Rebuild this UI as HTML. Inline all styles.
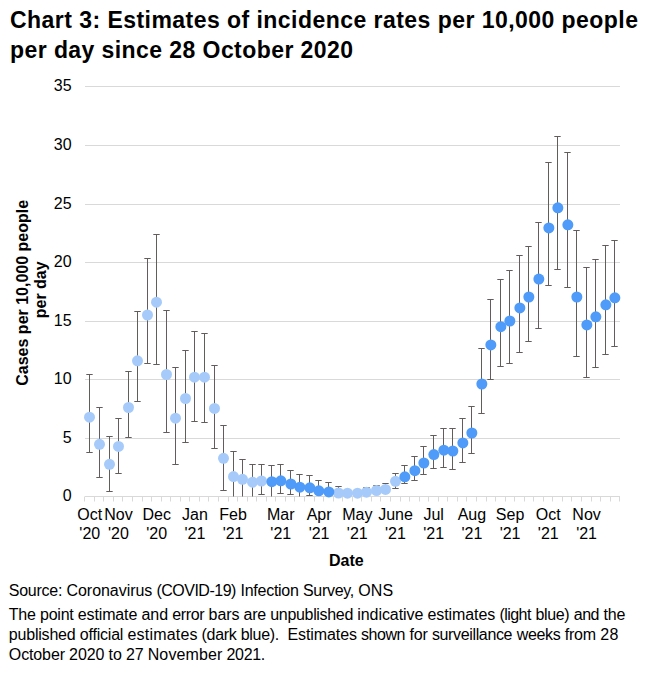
<!DOCTYPE html>
<html><head><meta charset="utf-8"><title>Chart 3</title>
<style>
html,body{margin:0;padding:0;background:#fff;}
body{width:651px;height:677px;position:relative;overflow:hidden;font-family:"Liberation Sans",sans-serif;}
svg text{font-family:"Liberation Sans",sans-serif;fill:#000;}
</style></head><body>
<svg width="651" height="677" viewBox="0 0 651 677" style="position:absolute;left:0;top:0">
<line x1="85.0" x2="620.0" y1="86.5" y2="86.5" stroke="#d9d9d9" stroke-width="1"/>
<line x1="85.0" x2="620.0" y1="145.5" y2="145.5" stroke="#d9d9d9" stroke-width="1"/>
<line x1="85.0" x2="620.0" y1="204.5" y2="204.5" stroke="#d9d9d9" stroke-width="1"/>
<line x1="85.0" x2="620.0" y1="262.5" y2="262.5" stroke="#d9d9d9" stroke-width="1"/>
<line x1="85.0" x2="620.0" y1="321.5" y2="321.5" stroke="#d9d9d9" stroke-width="1"/>
<line x1="85.0" x2="620.0" y1="379.5" y2="379.5" stroke="#d9d9d9" stroke-width="1"/>
<line x1="85.0" x2="620.0" y1="438.5" y2="438.5" stroke="#d9d9d9" stroke-width="1"/>
<line x1="85.0" x2="620.0" y1="496.5" y2="496.5" stroke="#d9d9d9" stroke-width="1"/>
<line x1="84.50" x2="84.50" y1="496.5" y2="501.5" stroke="#d9d9d9" stroke-width="1"/>
<line x1="94.50" x2="94.50" y1="496.5" y2="501.5" stroke="#d9d9d9" stroke-width="1"/>
<line x1="103.50" x2="103.50" y1="496.5" y2="501.5" stroke="#d9d9d9" stroke-width="1"/>
<line x1="113.50" x2="113.50" y1="496.5" y2="501.5" stroke="#d9d9d9" stroke-width="1"/>
<line x1="122.50" x2="122.50" y1="496.5" y2="501.5" stroke="#d9d9d9" stroke-width="1"/>
<line x1="132.50" x2="132.50" y1="496.5" y2="501.5" stroke="#d9d9d9" stroke-width="1"/>
<line x1="142.50" x2="142.50" y1="496.5" y2="501.5" stroke="#d9d9d9" stroke-width="1"/>
<line x1="151.50" x2="151.50" y1="496.5" y2="501.5" stroke="#d9d9d9" stroke-width="1"/>
<line x1="161.50" x2="161.50" y1="496.5" y2="501.5" stroke="#d9d9d9" stroke-width="1"/>
<line x1="170.50" x2="170.50" y1="496.5" y2="501.5" stroke="#d9d9d9" stroke-width="1"/>
<line x1="180.50" x2="180.50" y1="496.5" y2="501.5" stroke="#d9d9d9" stroke-width="1"/>
<line x1="189.50" x2="189.50" y1="496.5" y2="501.5" stroke="#d9d9d9" stroke-width="1"/>
<line x1="199.50" x2="199.50" y1="496.5" y2="501.5" stroke="#d9d9d9" stroke-width="1"/>
<line x1="208.50" x2="208.50" y1="496.5" y2="501.5" stroke="#d9d9d9" stroke-width="1"/>
<line x1="218.50" x2="218.50" y1="496.5" y2="501.5" stroke="#d9d9d9" stroke-width="1"/>
<line x1="228.50" x2="228.50" y1="496.5" y2="501.5" stroke="#d9d9d9" stroke-width="1"/>
<line x1="237.50" x2="237.50" y1="496.5" y2="501.5" stroke="#d9d9d9" stroke-width="1"/>
<line x1="247.50" x2="247.50" y1="496.5" y2="501.5" stroke="#d9d9d9" stroke-width="1"/>
<line x1="256.50" x2="256.50" y1="496.5" y2="501.5" stroke="#d9d9d9" stroke-width="1"/>
<line x1="266.50" x2="266.50" y1="496.5" y2="501.5" stroke="#d9d9d9" stroke-width="1"/>
<line x1="275.50" x2="275.50" y1="496.5" y2="501.5" stroke="#d9d9d9" stroke-width="1"/>
<line x1="285.50" x2="285.50" y1="496.5" y2="501.5" stroke="#d9d9d9" stroke-width="1"/>
<line x1="294.50" x2="294.50" y1="496.5" y2="501.5" stroke="#d9d9d9" stroke-width="1"/>
<line x1="304.50" x2="304.50" y1="496.5" y2="501.5" stroke="#d9d9d9" stroke-width="1"/>
<line x1="314.50" x2="314.50" y1="496.5" y2="501.5" stroke="#d9d9d9" stroke-width="1"/>
<line x1="323.50" x2="323.50" y1="496.5" y2="501.5" stroke="#d9d9d9" stroke-width="1"/>
<line x1="333.50" x2="333.50" y1="496.5" y2="501.5" stroke="#d9d9d9" stroke-width="1"/>
<line x1="342.50" x2="342.50" y1="496.5" y2="501.5" stroke="#d9d9d9" stroke-width="1"/>
<line x1="352.50" x2="352.50" y1="496.5" y2="501.5" stroke="#d9d9d9" stroke-width="1"/>
<line x1="361.50" x2="361.50" y1="496.5" y2="501.5" stroke="#d9d9d9" stroke-width="1"/>
<line x1="371.50" x2="371.50" y1="496.5" y2="501.5" stroke="#d9d9d9" stroke-width="1"/>
<line x1="380.50" x2="380.50" y1="496.5" y2="501.5" stroke="#d9d9d9" stroke-width="1"/>
<line x1="390.50" x2="390.50" y1="496.5" y2="501.5" stroke="#d9d9d9" stroke-width="1"/>
<line x1="400.50" x2="400.50" y1="496.5" y2="501.5" stroke="#d9d9d9" stroke-width="1"/>
<line x1="409.50" x2="409.50" y1="496.5" y2="501.5" stroke="#d9d9d9" stroke-width="1"/>
<line x1="419.50" x2="419.50" y1="496.5" y2="501.5" stroke="#d9d9d9" stroke-width="1"/>
<line x1="428.50" x2="428.50" y1="496.5" y2="501.5" stroke="#d9d9d9" stroke-width="1"/>
<line x1="438.50" x2="438.50" y1="496.5" y2="501.5" stroke="#d9d9d9" stroke-width="1"/>
<line x1="447.50" x2="447.50" y1="496.5" y2="501.5" stroke="#d9d9d9" stroke-width="1"/>
<line x1="457.50" x2="457.50" y1="496.5" y2="501.5" stroke="#d9d9d9" stroke-width="1"/>
<line x1="466.50" x2="466.50" y1="496.5" y2="501.5" stroke="#d9d9d9" stroke-width="1"/>
<line x1="476.50" x2="476.50" y1="496.5" y2="501.5" stroke="#d9d9d9" stroke-width="1"/>
<line x1="486.50" x2="486.50" y1="496.5" y2="501.5" stroke="#d9d9d9" stroke-width="1"/>
<line x1="495.50" x2="495.50" y1="496.5" y2="501.5" stroke="#d9d9d9" stroke-width="1"/>
<line x1="505.50" x2="505.50" y1="496.5" y2="501.5" stroke="#d9d9d9" stroke-width="1"/>
<line x1="514.50" x2="514.50" y1="496.5" y2="501.5" stroke="#d9d9d9" stroke-width="1"/>
<line x1="524.50" x2="524.50" y1="496.5" y2="501.5" stroke="#d9d9d9" stroke-width="1"/>
<line x1="533.50" x2="533.50" y1="496.5" y2="501.5" stroke="#d9d9d9" stroke-width="1"/>
<line x1="543.50" x2="543.50" y1="496.5" y2="501.5" stroke="#d9d9d9" stroke-width="1"/>
<line x1="552.50" x2="552.50" y1="496.5" y2="501.5" stroke="#d9d9d9" stroke-width="1"/>
<line x1="562.50" x2="562.50" y1="496.5" y2="501.5" stroke="#d9d9d9" stroke-width="1"/>
<line x1="571.50" x2="571.50" y1="496.5" y2="501.5" stroke="#d9d9d9" stroke-width="1"/>
<line x1="581.50" x2="581.50" y1="496.5" y2="501.5" stroke="#d9d9d9" stroke-width="1"/>
<line x1="591.50" x2="591.50" y1="496.5" y2="501.5" stroke="#d9d9d9" stroke-width="1"/>
<line x1="600.50" x2="600.50" y1="496.5" y2="501.5" stroke="#d9d9d9" stroke-width="1"/>
<line x1="610.50" x2="610.50" y1="496.5" y2="501.5" stroke="#d9d9d9" stroke-width="1"/>
<line x1="619.50" x2="619.50" y1="496.5" y2="501.5" stroke="#d9d9d9" stroke-width="1"/>
<path d="M89.50 374.5V452.5M86.30 374.5H92.70M86.30 452.5H92.70M99.50 407.5V477.5M96.30 407.5H102.70M96.30 477.5H102.70M109.50 436.5V491.5M106.30 436.5H112.70M106.30 491.5H112.70M118.50 418.5V473.5M115.30 418.5H121.70M115.30 473.5H121.70M128.50 371.5V437.5M125.30 371.5H131.70M125.30 437.5H131.70M137.50 311.5V401.5M134.30 311.5H140.70M134.30 401.5H140.70M147.50 258.5V363.5M144.30 258.5H150.70M144.30 363.5H150.70M156.50 234.5V364.5M153.30 234.5H159.70M153.30 364.5H159.70M166.50 310.5V432.5M163.30 310.5H169.70M163.30 432.5H169.70M175.50 367.5V464.5M172.30 367.5H178.70M172.30 464.5H178.70M185.50 350.5V442.5M182.30 350.5H188.70M182.30 442.5H188.70M194.50 331.5V421.5M191.30 331.5H197.70M191.30 421.5H197.70M204.50 333.5V422.5M201.30 333.5H207.70M201.30 422.5H207.70M214.50 365.5V448.5M211.30 365.5H217.70M211.30 448.5H217.70M223.50 425.5V490.5M220.30 425.5H226.70M220.30 490.5H226.70M233.50 451.5V496.5M230.30 451.5H236.70M242.50 459.5V496.5M239.30 459.5H245.70M252.50 464.5V496.5M249.30 464.5H255.70M261.50 464.5V494.5M258.30 464.5H264.70M258.30 494.5H264.70M338.50 486.5V496.5M335.30 486.5H341.70M335.30 496.5H341.70M347.50 489.5V496.5M344.30 489.5H350.70M344.30 496.5H350.70M357.50 489.5V496.5M354.30 489.5H360.70M354.30 496.5H360.70M366.50 487.5V495.5M363.30 487.5H369.70M363.30 495.5H369.70M376.50 485.5V493.5M373.30 485.5H379.70M373.30 493.5H379.70M385.50 483.5V492.5M382.30 483.5H388.70M382.30 492.5H388.70M395.50 473.5V488.5M392.30 473.5H398.70M392.30 488.5H398.70" stroke="#625c5c" stroke-width="1" fill="none"/>
<g fill="#a6cbfb"><circle cx="89.50" cy="417.2" r="5.5"/><circle cx="99.50" cy="444.3" r="5.5"/><circle cx="109.50" cy="464.3" r="5.5"/><circle cx="118.50" cy="446.4" r="5.5"/><circle cx="128.50" cy="407.5" r="5.5"/><circle cx="137.50" cy="360.8" r="5.5"/><circle cx="147.50" cy="315.0" r="5.5"/><circle cx="156.50" cy="302.2" r="5.5"/><circle cx="166.50" cy="374.5" r="5.5"/><circle cx="175.50" cy="418.2" r="5.5"/><circle cx="185.50" cy="398.5" r="5.5"/><circle cx="194.50" cy="377.2" r="5.5"/><circle cx="204.50" cy="377.2" r="5.5"/><circle cx="214.50" cy="408.4" r="5.5"/><circle cx="223.50" cy="458.3" r="5.5"/><circle cx="233.50" cy="476.6" r="5.5"/><circle cx="242.50" cy="479.3" r="5.5"/><circle cx="252.50" cy="482.2" r="5.5"/><circle cx="261.50" cy="481.0" r="5.5"/><circle cx="338.50" cy="493.0" r="5.5"/><circle cx="347.50" cy="493.2" r="5.5"/><circle cx="357.50" cy="493.2" r="5.5"/><circle cx="366.50" cy="492.2" r="5.5"/><circle cx="376.50" cy="490.5" r="5.5"/><circle cx="385.50" cy="489.4" r="5.5"/><circle cx="395.50" cy="481.3" r="5.5"/></g>
<path d="M271.50 465.5V496.5M268.30 465.5H274.70M280.50 464.5V493.5M277.30 464.5H283.70M277.30 493.5H283.70M290.50 470.5V494.5M287.30 470.5H293.70M287.30 494.5H293.70M299.50 474.5V496.5M296.30 474.5H302.70M309.50 475.5V495.5M306.30 475.5H312.70M306.30 495.5H312.70M318.50 480.5V493.5M315.30 480.5H321.70M315.30 493.5H321.70M328.50 482.5V494.5M325.30 482.5H331.70M325.30 494.5H331.70M404.50 465.5V483.5M401.30 465.5H407.70M401.30 483.5H407.70M414.50 456.5V480.5M411.30 456.5H417.70M411.30 480.5H417.70M423.50 446.5V474.5M420.30 446.5H426.70M420.30 474.5H426.70M433.50 435.5V468.5M430.30 435.5H436.70M430.30 468.5H436.70M443.50 428.5V467.5M440.30 428.5H446.70M440.30 467.5H446.70M452.50 428.5V469.5M449.30 428.5H455.70M449.30 469.5H455.70M462.50 418.5V462.5M459.30 418.5H465.70M459.30 462.5H465.70M471.50 406.5V453.5M468.30 406.5H474.70M468.30 453.5H474.70M481.50 348.5V413.5M478.30 348.5H484.70M478.30 413.5H484.70M490.50 299.5V379.5M487.30 299.5H493.70M487.30 379.5H493.70M500.50 279.5V366.5M497.30 279.5H503.70M497.30 366.5H503.70M509.50 270.5V363.5M506.30 270.5H512.70M506.30 363.5H512.70M519.50 255.5V352.5M516.30 255.5H522.70M516.30 352.5H522.70M528.50 246.5V341.5M525.30 246.5H531.70M525.30 341.5H531.70M538.50 222.5V328.5M535.30 222.5H541.70M535.30 328.5H541.70M548.50 162.5V285.5M545.30 162.5H551.70M545.30 285.5H551.70M557.50 136.5V269.5M554.30 136.5H560.70M554.30 269.5H560.70M567.50 152.5V287.5M564.30 152.5H570.70M564.30 287.5H570.70M576.50 230.5V356.5M573.30 230.5H579.70M573.30 356.5H579.70M586.50 267.5V377.5M583.30 267.5H589.70M583.30 377.5H589.70M595.50 259.5V367.5M592.30 259.5H598.70M592.30 367.5H598.70M605.50 245.5V354.5M602.30 245.5H608.70M602.30 354.5H608.70M614.50 240.5V346.5M611.30 240.5H617.70M611.30 346.5H617.70" stroke="#625c5c" stroke-width="1" fill="none"/>
<g fill="#4f9bfa"><circle cx="271.85" cy="481.7" r="5.5"/><circle cx="280.85" cy="480.8" r="5.5"/><circle cx="290.85" cy="484.0" r="5.5"/><circle cx="299.85" cy="487.2" r="5.5"/><circle cx="309.85" cy="487.8" r="5.5"/><circle cx="318.85" cy="490.8" r="5.5"/><circle cx="328.85" cy="491.9" r="5.5"/><circle cx="404.85" cy="476.8" r="5.5"/><circle cx="414.85" cy="470.7" r="5.5"/><circle cx="423.85" cy="463.0" r="5.5"/><circle cx="433.85" cy="454.6" r="5.5"/><circle cx="443.85" cy="450.2" r="5.5"/><circle cx="452.85" cy="451.0" r="5.5"/><circle cx="462.85" cy="442.9" r="5.5"/><circle cx="471.85" cy="433.0" r="5.5"/><circle cx="481.85" cy="384.0" r="5.5"/><circle cx="490.85" cy="344.9" r="5.5"/><circle cx="500.85" cy="326.7" r="5.5"/><circle cx="509.85" cy="321.0" r="5.5"/><circle cx="519.85" cy="307.9" r="5.5"/><circle cx="528.85" cy="297.0" r="5.5"/><circle cx="538.85" cy="279.1" r="5.5"/><circle cx="548.85" cy="227.9" r="5.5"/><circle cx="557.85" cy="207.8" r="5.5"/><circle cx="567.85" cy="224.8" r="5.5"/><circle cx="576.85" cy="297.0" r="5.5"/><circle cx="586.85" cy="324.9" r="5.5"/><circle cx="595.85" cy="316.8" r="5.5"/><circle cx="605.85" cy="304.8" r="5.5"/><circle cx="614.85" cy="297.8" r="5.5"/></g>
<text x="71.6" y="90.8" text-anchor="end" font-size="16">35</text>
<text x="71.6" y="149.8" text-anchor="end" font-size="16">30</text>
<text x="71.6" y="208.8" text-anchor="end" font-size="16">25</text>
<text x="71.6" y="266.8" text-anchor="end" font-size="16">20</text>
<text x="71.6" y="325.8" text-anchor="end" font-size="16">15</text>
<text x="71.6" y="383.8" text-anchor="end" font-size="16">10</text>
<text x="71.6" y="442.8" text-anchor="end" font-size="16">5</text>
<text x="71.6" y="500.8" text-anchor="end" font-size="16">0</text>
<text x="89.8" y="519.8" text-anchor="middle" font-size="16">Oct</text>
<text x="89.8" y="538.7" text-anchor="middle" font-size="16">'20</text>
<text x="118.4" y="519.8" text-anchor="middle" font-size="16">Nov</text>
<text x="118.4" y="538.7" text-anchor="middle" font-size="16">'20</text>
<text x="156.7" y="519.8" text-anchor="middle" font-size="16">Dec</text>
<text x="156.7" y="538.7" text-anchor="middle" font-size="16">'20</text>
<text x="194.9" y="519.8" text-anchor="middle" font-size="16">Jan</text>
<text x="194.9" y="538.7" text-anchor="middle" font-size="16">'21</text>
<text x="233.1" y="519.8" text-anchor="middle" font-size="16">Feb</text>
<text x="233.1" y="538.7" text-anchor="middle" font-size="16">'21</text>
<text x="280.8" y="519.8" text-anchor="middle" font-size="16">Mar</text>
<text x="280.8" y="538.7" text-anchor="middle" font-size="16">'21</text>
<text x="319.1" y="519.8" text-anchor="middle" font-size="16">Apr</text>
<text x="319.1" y="538.7" text-anchor="middle" font-size="16">'21</text>
<text x="357.3" y="519.8" text-anchor="middle" font-size="16">May</text>
<text x="357.3" y="538.7" text-anchor="middle" font-size="16">'21</text>
<text x="395.5" y="519.8" text-anchor="middle" font-size="16">June</text>
<text x="395.5" y="538.7" text-anchor="middle" font-size="16">'21</text>
<text x="433.7" y="519.8" text-anchor="middle" font-size="16">Jul</text>
<text x="433.7" y="538.7" text-anchor="middle" font-size="16">'21</text>
<text x="471.9" y="519.8" text-anchor="middle" font-size="16">Aug</text>
<text x="471.9" y="538.7" text-anchor="middle" font-size="16">'21</text>
<text x="510.1" y="519.8" text-anchor="middle" font-size="16">Sep</text>
<text x="510.1" y="538.7" text-anchor="middle" font-size="16">'21</text>
<text x="548.3" y="519.8" text-anchor="middle" font-size="16">Oct</text>
<text x="548.3" y="538.7" text-anchor="middle" font-size="16">'21</text>
<text x="586.6" y="519.8" text-anchor="middle" font-size="16">Nov</text>
<text x="586.6" y="538.7" text-anchor="middle" font-size="16">'21</text>
<text x="346.3" y="566.4" text-anchor="middle" font-size="16" font-weight="bold">Date</text>
<text transform="translate(27.7 292.8) rotate(-90)" text-anchor="middle" font-size="16" font-weight="bold">Cases per 10,000 people</text>
<text transform="translate(45.5 289.8) rotate(-90)" text-anchor="middle" font-size="16" font-weight="bold">per day</text>
<text x="10.0" y="27.5" font-size="23" font-weight="bold" textLength="628" lengthAdjust="spacing" xml:space="preserve">Chart 3: Estimates of incidence rates per 10,000 people</text>
<text x="10.0" y="57.9" font-size="23" font-weight="bold" textLength="343" lengthAdjust="spacing" xml:space="preserve">per day since 28 October 2020</text>
<text x="8.8" y="596.0" font-size="16" textLength="53.6" lengthAdjust="spacing" xml:space="preserve">Source:</text>
<text x="66.5" y="596.0" font-size="16" textLength="85.8" lengthAdjust="spacing" xml:space="preserve">Coronavirus</text>
<text x="156.4" y="596.0" font-size="16" textLength="80.0" lengthAdjust="spacing" xml:space="preserve">(COVID-19)</text>
<text x="240.5" y="596.0" font-size="16" textLength="58.4" lengthAdjust="spacing" xml:space="preserve">Infection</text>
<text x="303.0" y="596.0" font-size="16" textLength="51.2" lengthAdjust="spacing" xml:space="preserve">Survey,</text>
<text x="358.3" y="596.0" font-size="16" textLength="34.8" lengthAdjust="spacing" xml:space="preserve">ONS</text>
<text x="8.8" y="620.0" font-size="16" textLength="27.1" lengthAdjust="spacing" xml:space="preserve">The</text>
<text x="40.0" y="620.0" font-size="16" textLength="33.8" lengthAdjust="spacing" xml:space="preserve">point</text>
<text x="77.8" y="620.0" font-size="16" textLength="59.5" lengthAdjust="spacing" xml:space="preserve">estimate</text>
<text x="141.4" y="620.0" font-size="16" textLength="26.7" lengthAdjust="spacing" xml:space="preserve">and</text>
<text x="172.2" y="620.0" font-size="16" textLength="32.3" lengthAdjust="spacing" xml:space="preserve">error</text>
<text x="208.6" y="620.0" font-size="16" textLength="30.9" lengthAdjust="spacing" xml:space="preserve">bars</text>
<text x="243.6" y="620.0" font-size="16" textLength="22.6" lengthAdjust="spacing" xml:space="preserve">are</text>
<text x="270.3" y="620.0" font-size="16" textLength="83.0" lengthAdjust="spacing" xml:space="preserve">unpublished</text>
<text x="357.3" y="620.0" font-size="16" textLength="66.0" lengthAdjust="spacing" xml:space="preserve">indicative</text>
<text x="427.4" y="620.0" font-size="16" textLength="67.9" lengthAdjust="spacing" xml:space="preserve">estimates</text>
<text x="499.5" y="620.0" font-size="16" textLength="31.9" lengthAdjust="spacing" xml:space="preserve">(light</text>
<text x="535.5" y="620.0" font-size="16" textLength="34.2" lengthAdjust="spacing" xml:space="preserve">blue)</text>
<text x="573.8" y="620.0" font-size="16" textLength="25.6" lengthAdjust="spacing" xml:space="preserve">and</text>
<text x="603.5" y="620.0" font-size="16" textLength="21.8" lengthAdjust="spacing" xml:space="preserve">the</text>
<text x="8.8" y="640.0" font-size="16" textLength="66.9" lengthAdjust="spacing" xml:space="preserve">published</text>
<text x="79.8" y="640.0" font-size="16" textLength="43.6" lengthAdjust="spacing" xml:space="preserve">official</text>
<text x="127.5" y="640.0" font-size="16" textLength="70.0" lengthAdjust="spacing" xml:space="preserve">estimates</text>
<text x="201.6" y="640.0" font-size="16" textLength="35.2" lengthAdjust="spacing" xml:space="preserve">(dark</text>
<text x="240.8" y="640.0" font-size="16" textLength="38.4" lengthAdjust="spacing" xml:space="preserve">blue).</text>
<text x="287.5" y="640.0" font-size="16" textLength="69.5" lengthAdjust="spacing" xml:space="preserve">Estimates</text>
<text x="361.0" y="640.0" font-size="16" textLength="44.5" lengthAdjust="spacing" xml:space="preserve">shown</text>
<text x="409.6" y="640.0" font-size="16" textLength="18.2" lengthAdjust="spacing" xml:space="preserve">for</text>
<text x="431.9" y="640.0" font-size="16" textLength="80.6" lengthAdjust="spacing" xml:space="preserve">surveillance</text>
<text x="516.7" y="640.0" font-size="16" textLength="44.0" lengthAdjust="spacing" xml:space="preserve">weeks</text>
<text x="564.8" y="640.0" font-size="16" textLength="31.3" lengthAdjust="spacing" xml:space="preserve">from</text>
<text x="600.2" y="640.0" font-size="16" textLength="18.1" lengthAdjust="spacing" xml:space="preserve">28</text>
<text x="8.8" y="660.2" font-size="16" textLength="56.2" lengthAdjust="spacing" xml:space="preserve">October</text>
<text x="69.1" y="660.2" font-size="16" textLength="35.3" lengthAdjust="spacing" xml:space="preserve">2020</text>
<text x="108.5" y="660.2" font-size="16" textLength="13.3" lengthAdjust="spacing" xml:space="preserve">to</text>
<text x="125.9" y="660.2" font-size="16" textLength="17.7" lengthAdjust="spacing" xml:space="preserve">27</text>
<text x="147.7" y="660.2" font-size="16" textLength="74.6" lengthAdjust="spacing" xml:space="preserve">November</text>
<text x="226.5" y="660.2" font-size="16" textLength="38.8" lengthAdjust="spacing" xml:space="preserve">2021.</text>
</svg>
</body></html>
